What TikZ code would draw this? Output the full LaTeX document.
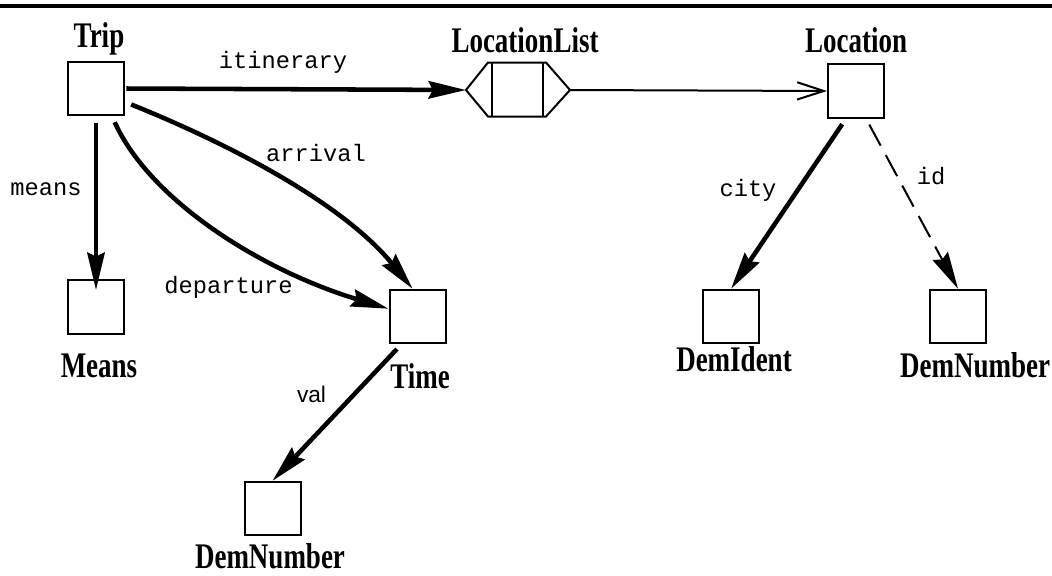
\documentclass[tikz,border=0pt]{standalone}
\usepackage{fontspec}
\setmainfont{Liberation Serif}
\setsansfont{Liberation Sans}
\setmonofont{Liberation Mono}
\newfontfamily\typefont[FakeStretch=0.75]{Liberation Serif}
\usetikzlibrary{arrows.meta}

\tikzset{
  cell/.style={draw, line width=1.5pt, minimum width=42pt, minimum height=40pt, inner sep=0pt},
  typename/.style={anchor=base, inner sep=0pt, font=\fontsize{27}{30}\typefont\bfseries},
  fieldname/.style={anchor=base, inner sep=0pt, font=\fontsize{17.8}{21}\selectfont\ttfamily},
  sfname/.style={anchor=base, inner sep=0pt, font=\fontsize{17}{20}\selectfont\sffamily},
  strong/.style={line width=3.4pt, -{Stealth[length=28pt,width=13pt,inset=3pt]}, shorten <=5pt},
  weak/.style={line width=1.5pt, -{Straight Barb[length=20pt,width=13pt]}},
}

\begin{document}
\begin{tikzpicture}[x=0.75pt,y=0.75pt,yscale=-1,xscale=1]
\useasboundingbox (0,0) rectangle (1052,575);

%Straight Lines: top rule
\draw [line width=2.6pt] (0,6) -- (1052,6) ;

%Shape: Square boxes
\node [cell] (Trip) at (96,88.5) {};
\node [cell] (Means) at (96,307) {};
\node [cell] (Time) at (417.5,316.5) {};
\node [cell] (DemNumberA) at (272.5,508.5) {};
\node [cell] (Location) at (856,91) {};
\node [cell] (DemIdent) at (731,316.5) {};
\node [cell] (DemNumberB) at (958,316.5) {};

%Shape: Hexagon (list)
\draw [line width=1.5pt] (466,90) -- (488,62.5) -- (546,62.5) -- (570,90) -- (546,116.5) -- (488,116.5) -- cycle ;
\draw [line width=1.5pt] (491.5,62.5) -- (491.5,116.5) (543,62.5) -- (543,116.5) ;
\coordinate (LocationList-w) at (466,90);
\coordinate (LocationList-e) at (570,90);

% Text Node
\node [typename] (TripLbl) at (99,47) {Trip};
% Text Node
\node [typename] (LocationListLbl) at (525,52) {LocationList};
% Text Node
\node [typename] (LocationLbl) at (856,52) {Location};
% Text Node
\node [typename] (MeansLbl) at (99,377) {Means};
% Text Node
\node [typename] (TimeLbl) at (420,388) {Time};
% Text Node
\node [typename] (DemNumberALbl) at (270,568) {DemNumber};
% Text Node
\node [typename] (DemIdentLbl) at (734,371) {DemIdent};
% Text Node
\node [typename] (DemNumberBLbl) at (975,377) {DemNumber};

% Text Node
\node [fieldname] (itineraryLbl) at (283,68) {itinerary};
% Text Node
\node [fieldname] (meansLbl) at (46,195) {means};
% Text Node
\node [fieldname] (arrivalLbl) at (316,161) {arrival};
% Text Node
\node [fieldname] (departureLbl) at (228.5,293) {departure};
% Text Node
\node [sfname] (valLbl) at (311.5,402) {val};
% Text Node
\node [fieldname] (cityLbl) at (748,196) {city};
% Text Node
\node [fieldname] (idLbl) at (931,184) {id};

%Straight Lines: references
\draw [strong, shorten <=1pt] (Trip.east) -- (LocationList-w) ;
\draw [weak] (LocationList-e) -- (Location.west) ;
\draw [strong, shorten >=-8pt] (Trip.south) -- (Means.north) ;
\draw [strong] (Time.-120) -- (DemNumberA.north) ;
\draw [strong] (Location.-110) -- (DemIdent.north) ;
\draw [strong, line width=1.5pt, dash pattern=on 18pt off 8pt] (Location.-70) -- (DemNumberB.north) ;

%Curve Lines
\draw [strong] (Trip.-25) .. controls (220,140) and (340,200) .. (Time.100) ;
\draw [strong] (Trip.-60) .. controls (150,200) and (260,270) .. (Time.165) ;

\end{tikzpicture}
\end{document}
